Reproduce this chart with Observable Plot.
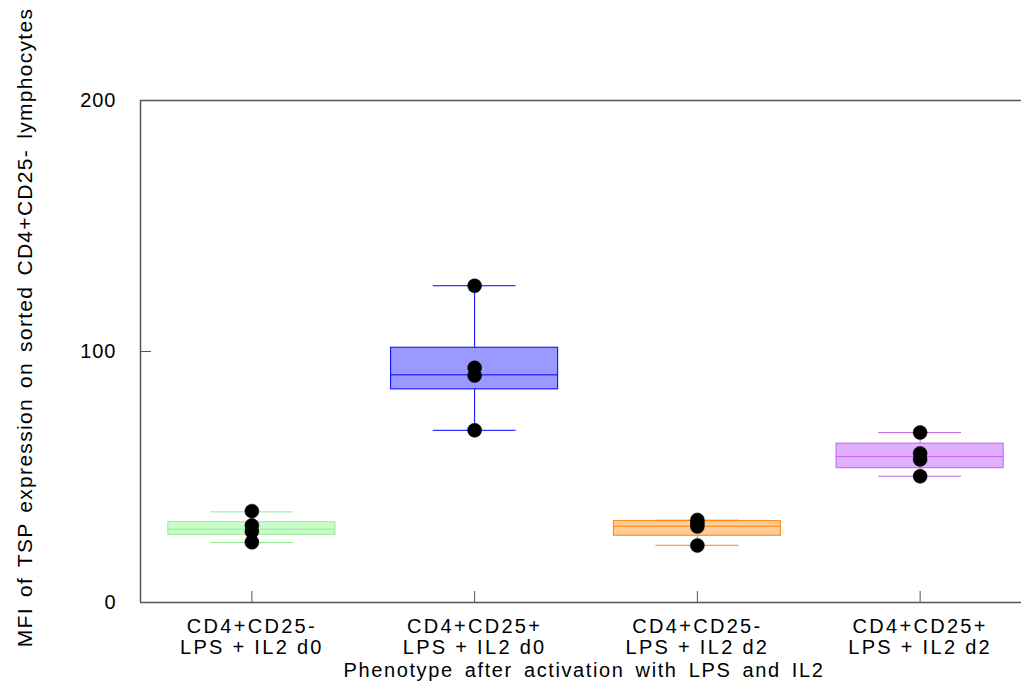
<!DOCTYPE html>
<html>
<head>
<meta charset="utf-8">
<script src="https://cdn.jsdelivr.net/npm/d3@7"></script>
<script src="https://cdn.jsdelivr.net/npm/@observablehq/plot@0.6"></script>
<style>
  html, body { margin: 0; padding: 0; background: #fff; overflow: hidden; }
</style>
</head>
<body>
<div id="chart"></div>
<script>
// Groups (tick labels, two lines each)
const groups = [
  "CD4+CD25-\nLPS + IL2 d0",
  "CD4+CD25+\nLPS + IL2 d0",
  "CD4+CD25-\nLPS + IL2 d2",
  "CD4+CD25+\nLPS + IL2 d2"
];

// Box summaries (MFI)
const whiskerLow  = [23.9, 68.6, 22.8, 50.3];
const quartile1   = [27.0, 84.9, 26.6, 53.5];
const median      = [29.2, 90.7, 30.4, 58.2];
const quartile3   = [32.0, 101.5, 32.4, 63.3];
const whiskerHigh = [36.1, 126.2, 32.8, 67.7];

// Individual measurements per group
const obsGroup1 = [24.0, 28.3, 30.7, 36.4];
const obsGroup2 = [68.6, 90.4, 93.5, 126.2];
const obsGroup3 = [22.7, 30.3, 31.6, 32.9];
const obsGroup4 = [50.3, 57.0, 59.4, 67.7];

const fills   = ["#c8fcc8", "#9999ff", "#ffcc99", "#e0b0ff"];
const strokes = ["#90ee90", "#0000ff", "#ff8000", "#c060f0"];

const yTicks = [0, 100, 200];
const yTitle = "MFI of TSP expression on sorted CD4+CD25- lymphocytes";
const xTitle = "Phenotype after activation with LPS and IL2";

// Tables built from the arrays above
const boxes = groups.map((g, i) => ({
  i, lo: whiskerLow[i], q1: quartile1[i], med: median[i], q3: quartile3[i], hi: whiskerHigh[i],
  fill: fills[i], stroke: strokes[i]
}));
const points = [obsGroup1, obsGroup2, obsGroup3, obsGroup4]
  .flatMap((vals, i) => vals.map(v => ({i, v})));

const boxHalf = 0.375;  // half box width, in band units
const capHalf = 0.186;  // half whisker-cap width

const frameColor = "#555";

const chart = Plot.plot({
  width: 1021,
  height: 685,
  marginLeft: 140,
  marginRight: 0,
  marginTop: 100,
  marginBottom: 83,
  style: {fontFamily: "'Liberation Sans', Arial, sans-serif", background: "#fff"},
  x: {domain: [-0.5, 3.5], range: [140, 1031]},
  y: {domain: [0, 200]},
  color: {type: "identity"},
  marks: [
    // whiskers
    Plot.ruleX(boxes, {x: "i", y1: "lo", y2: "hi", stroke: "stroke"}),
    Plot.ruleY(boxes, {y: "lo", x1: d => d.i - capHalf, x2: d => d.i + capHalf, stroke: "stroke"}),
    Plot.ruleY(boxes, {y: "hi", x1: d => d.i - capHalf, x2: d => d.i + capHalf, stroke: "stroke"}),
    // boxes and medians
    Plot.rectY(boxes, {x1: d => d.i - boxHalf, x2: d => d.i + boxHalf, y1: "q1", y2: "q3", fill: "fill", stroke: "stroke"}),
    Plot.ruleY(boxes, {y: "med", x1: d => d.i - boxHalf, x2: d => d.i + boxHalf, stroke: "stroke"}),
    // observations
    Plot.dot(points, {x: "i", y: "v", r: 7, fill: "black", stroke: "black", strokeWidth: 0.5}),
    // frame lines (top, bottom, left)
    Plot.ruleY([0, 200], {stroke: frameColor, strokeWidth: 1.5}),
    Plot.ruleX([-0.5], {stroke: frameColor, strokeWidth: 1.5}),
    // axes with inward ticks
    Plot.axisY({ticks: yTicks, tickSize: -11, tickPadding: 35, stroke: frameColor, fill: "black", fontSize: 20, label: null}),
    Plot.axisX({ticks: [0, 1, 2, 3], tickFormat: i => groups[i], tickSize: -11, tickPadding: 27,
      stroke: frameColor, fill: "black", fontSize: 20, lineHeight: 1.05, label: null}),
    // axis titles
    Plot.text([xTitle], {frameAnchor: "bottom", lineAnchor: "middle", textAnchor: "middle",
      dy: 67.6, dx: 3, fontSize: 20, fill: "black", className: "x-title"}),
    Plot.text([yTitle], {frameAnchor: "left", rotate: -90, lineAnchor: "middle", textAnchor: "middle",
      dx: -115, dy: -24, fontSize: 21, fill: "black", className: "y-title"})
  ]
});

const svg = d3.select(chart);
svg.selectAll('[aria-label="x-axis tick label"] text').attr("letter-spacing", 2.3);
svg.selectAll('[aria-label="y-axis tick label"] text').attr("letter-spacing", 1);
svg.selectAll('.x-title text').attr("letter-spacing", 1.6).attr("word-spacing", 4);
svg.selectAll('.y-title text').attr("letter-spacing", 1.3).attr("word-spacing", 3);
document.getElementById("chart").appendChild(chart);
</script>
</body>
</html>
